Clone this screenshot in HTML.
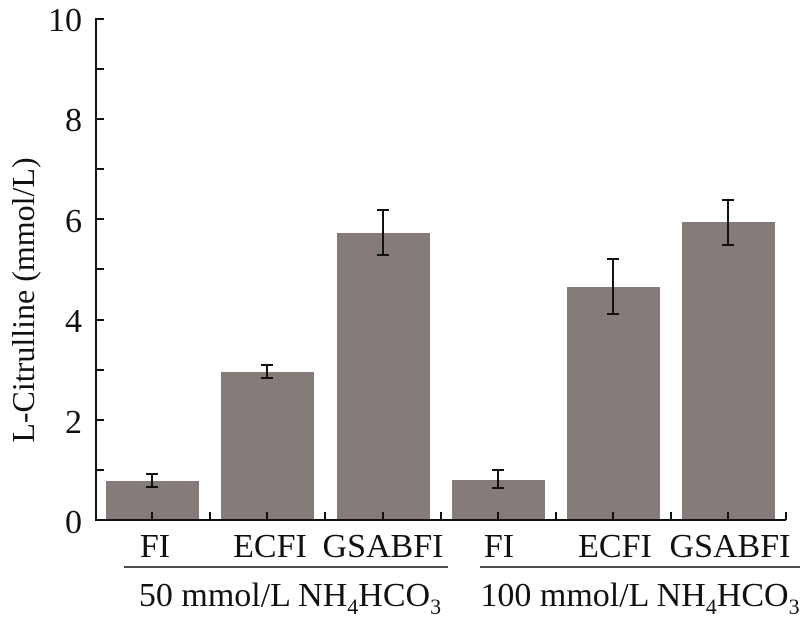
<!DOCTYPE html>
<html><head><style>body{margin:0;background:#fff}</style></head><body>
<svg width="800" height="625" xmlns="http://www.w3.org/2000/svg" font-family="Liberation Serif, serif" fill="#111">
<g fill="#857b79">
<rect x="106" y="481" width="93" height="39"/>
<rect x="221" y="372" width="93" height="148"/>
<rect x="337" y="233" width="93" height="287"/>
<rect x="452" y="480" width="93" height="40"/>
<rect x="567" y="287" width="93" height="233"/>
<rect x="682" y="222" width="93" height="298"/>
</g>
<g stroke="#111" stroke-width="2" fill="none">
<path d="M96 18V520H786"/>
<path d="M96 19h8M96 69h8M96 119h8M96 169h8M96 219h8M96 269h8M96 320h8M96 370h8M96 420h8M96 470h8"/>
<path d="M152 520v-8M210 520v-8M267 520v-8M325 520v-8M383 520v-8M441 520v-8M498 520v-8M556 520v-8M613 520v-8M671 520v-8M728 520v-8M786 520v-8"/>
<path d="M152 474v13M146 474h12M146 487h12"/>
<path d="M267 365v13M261 365h12M261 378h12"/>
<path d="M383 210v45M377 210h12M377 255h12"/>
<path d="M498 470v18M492 470h12M492 488h12"/>
<path d="M613 259v55M607 259h12M607 314h12"/>
<path d="M728 200v45M722 200h12M722 245h12"/>
</g>
<path d="M124 567H448M480 567H800" stroke="#111" stroke-width="1.5"/>
<g font-size="34" text-anchor="end">
<text x="82" y="31">10</text><text x="82" y="131">8</text><text x="82" y="232">6</text>
<text x="82" y="332">4</text><text x="82" y="433">2</text><text x="82" y="533">0</text>
</g>
<text transform="translate(34,300) rotate(-90)" font-size="32" text-anchor="middle">L-Citrulline (mmol/L)</text>
<g font-size="34" text-anchor="middle">
<text x="155" y="557">FI</text><text x="270" y="557">ECFI</text><text x="383" y="557">GSABFI</text>
<text x="499" y="557">FI</text><text x="615" y="557">ECFI</text><text x="730" y="557">GSABFI</text>
<text x="290" y="606">50 mmol/L NH<tspan font-size="22" dy="8">4</tspan><tspan dy="-8">HCO</tspan><tspan font-size="22" dy="8">3</tspan></text>
<text x="640" y="606">100 mmol/L NH<tspan font-size="22" dy="8">4</tspan><tspan dy="-8">HCO</tspan><tspan font-size="22" dy="8">3</tspan></text>
</g>
</svg>
</body></html>
